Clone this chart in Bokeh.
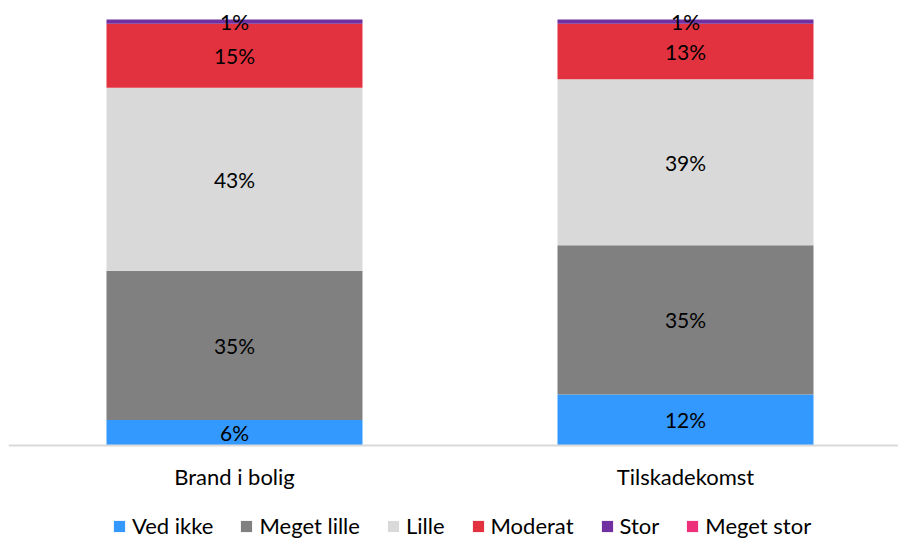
from bokeh.plotting import figure
from bokeh.models import ColumnDataSource, Legend, LegendItem, FixedTicker, Range1d
from bokeh.core.properties import value
from bokeh.embed import file_html
from bokeh.resources import INLINE

categories = ["Brand i bolig", "Tilskadekomst"]
series = ["Ved ikke", "Meget lille", "Lille", "Moderat", "Stor", "Meget stor"]
ved_ikke = [6, 12]
meget_lille = [35, 35]
lille = [43, 39]
moderat = [15, 13]
stor = [1, 1]
meget_stor = [0, 0]
colors = ["#3399FF", "#808080", "#D9D9D9", "#E3323F", "#7030A0", "#EE2F7A"]

values = [ved_ikke, meget_lille, lille, moderat, stor, meget_stor]
xpos = list(range(len(categories)))
data = {"x": xpos}
for name, vals in zip(series, values):
    data[name] = vals
source = ColumnDataSource(data)

FONT = "Lato"

p = figure(frame_width=890, frame_height=530, output_backend="svg", toolbar_location=None,
           x_range=Range1d(-0.5011, 1.4723), y_range=Range1d(-21.83, 102.58),
           min_border_left=8, min_border_right=0, min_border_top=8, min_border_bottom=0)
p.outline_line_color = None
p.xgrid.visible = False
p.ygrid.visible = False
p.yaxis.visible = False

renderers = p.vbar_stack(series, x="x", width=0.5676, source=source, color=colors, line_color=None)

# value labels
lx, ly, lt = [], [], []
for i in range(len(categories)):
    base = 0
    for vals in values:
        v = vals[i]
        if v > 0:
            lx.append(xpos[i])
            ly.append(base + v / 2)
            lt.append(f"{v}%")
        base += v
p.text(x=lx, y=ly, text=lt, text_align="center", text_baseline="middle",
       text_font=value(FONT), text_font_size="21px", text_color="#000000")

ax = p.xaxis[0]
ax.fixed_location = 0
ax.ticker = FixedTicker(ticks=xpos)
ax.major_label_overrides = {i: c for i, c in zip(xpos, categories)}
ax.major_tick_line_color = None
ax.minor_tick_line_color = None
ax.major_tick_out = 0
ax.axis_line_color = "#D9D9D9"
ax.axis_line_width = 2
ax.major_label_standoff = 17
ax.major_label_text_font = FONT
ax.major_label_text_font_size = "22px"
ax.major_label_text_color = "#000000"

legend = Legend(items=[LegendItem(label=s, renderers=[r]) for s, r in zip(series, renderers)],
                orientation="horizontal", location=(104, -1))
legend.label_text_font = FONT
legend.label_text_font_size = "22px"
legend.label_text_color = "#000000"
legend.glyph_width = 14
legend.glyph_height = 14
legend.label_standoff = 6
legend.spacing = 26
legend.padding = 0
legend.margin = 0
legend.border_line_color = None
legend.background_fill_alpha = 0
p.add_layout(legend, "center")

open("out.html", "w").write(file_html(p, INLINE))
